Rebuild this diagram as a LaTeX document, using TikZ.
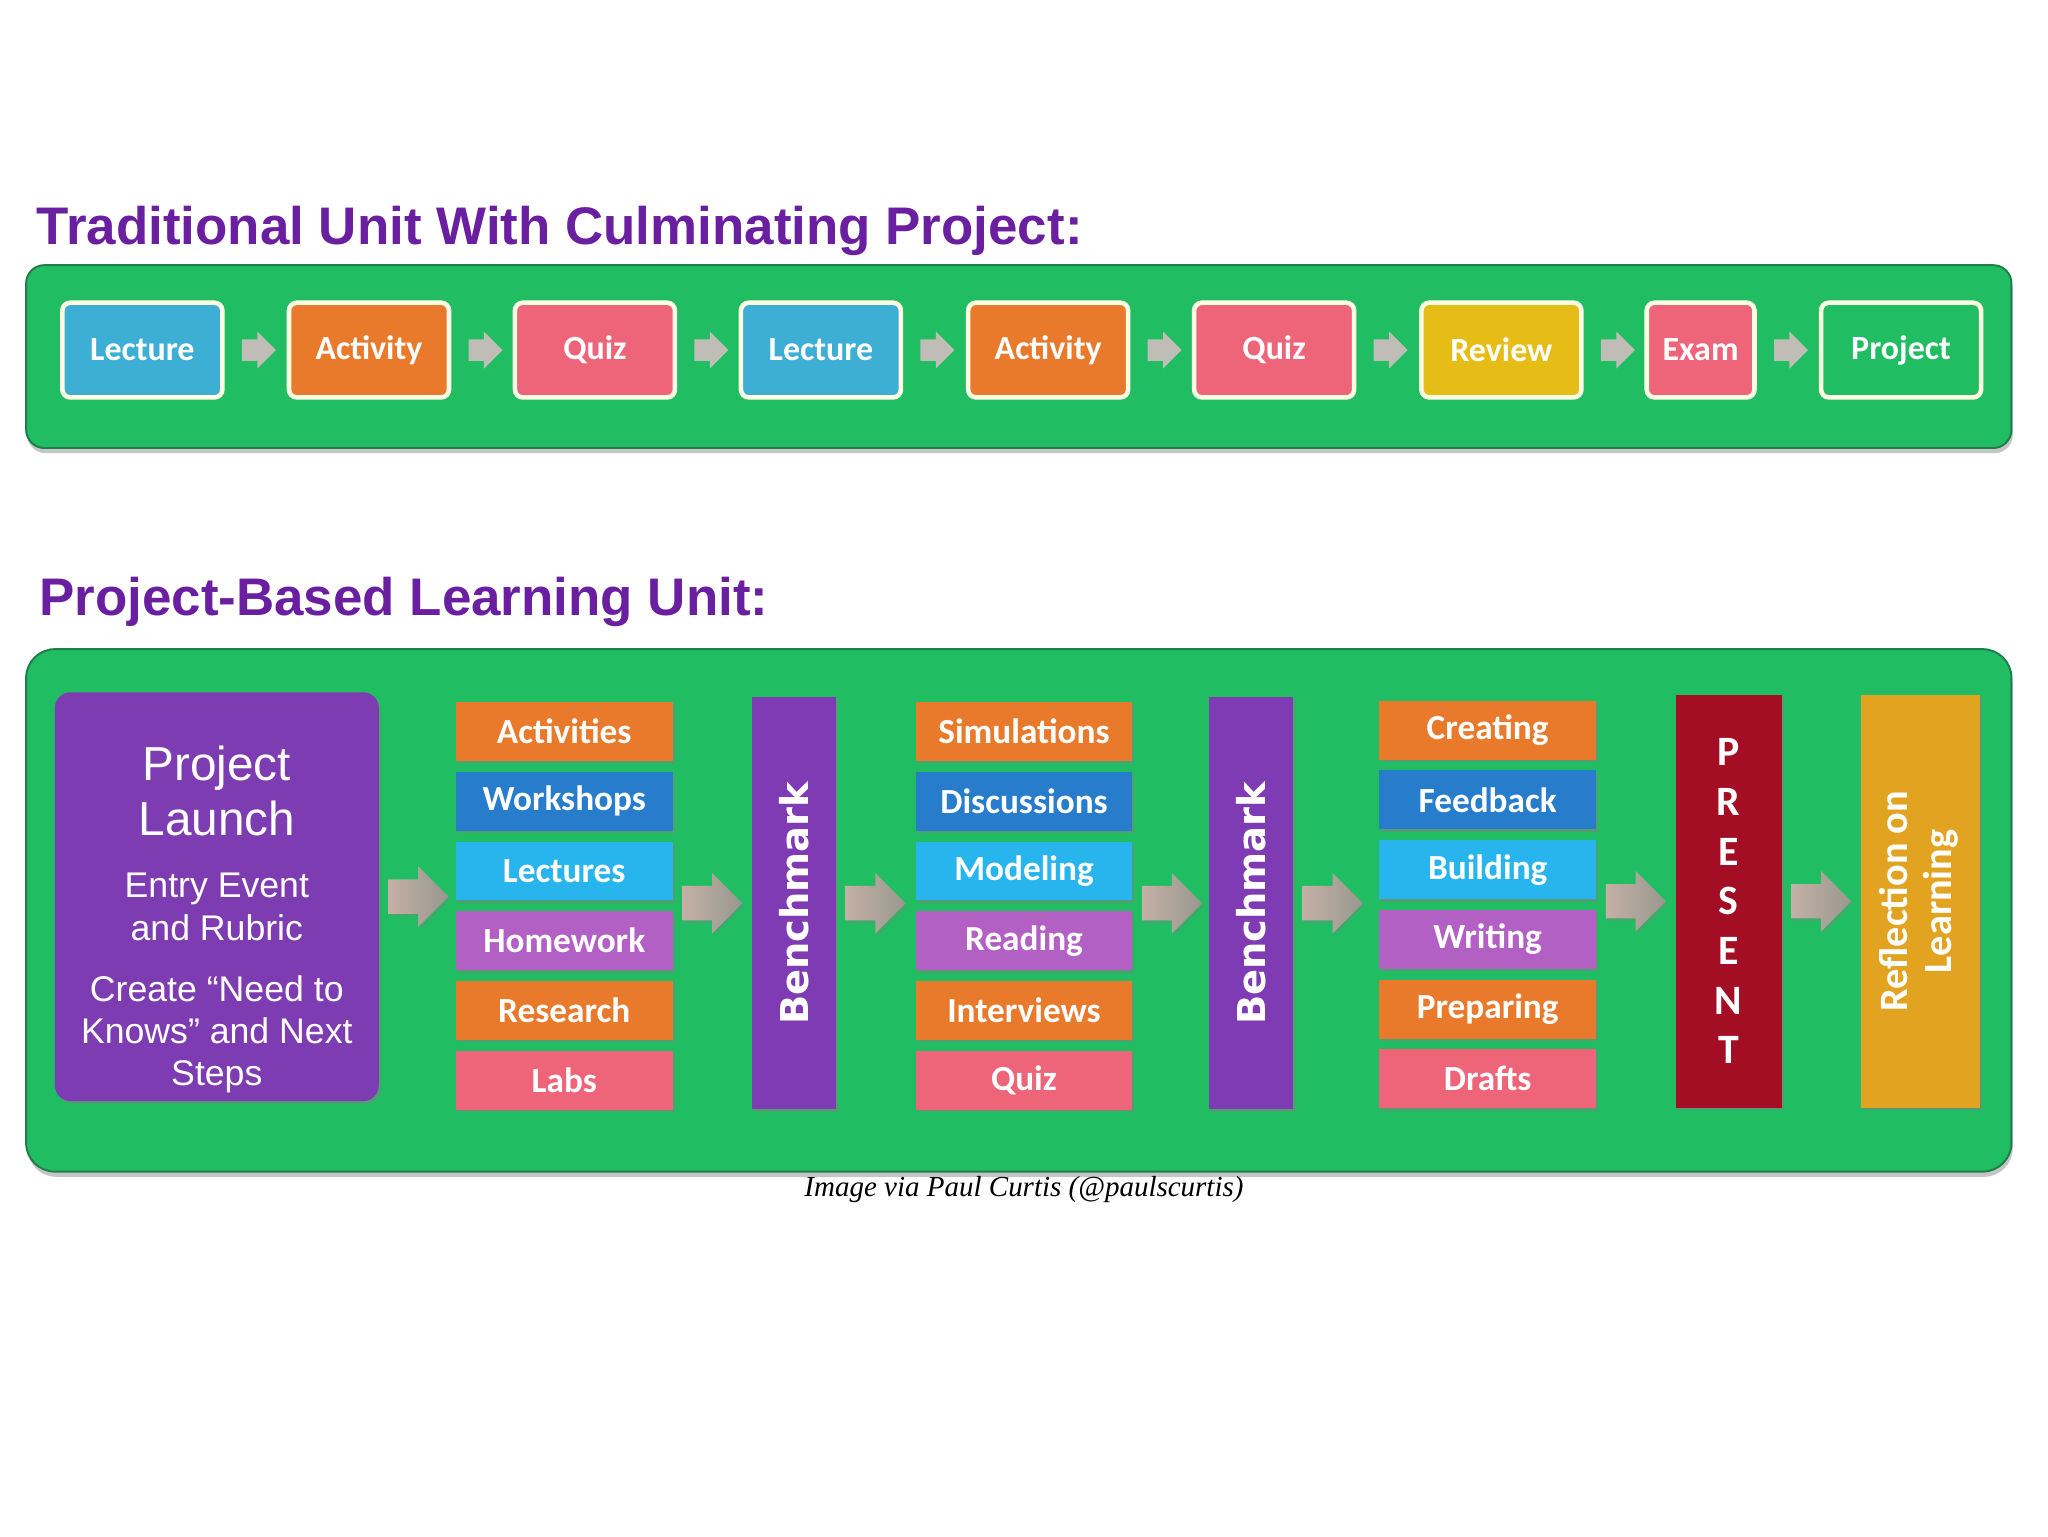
\documentclass[tikz,border=0pt]{standalone}
\usepackage{fontspec}
\usepackage{graphicx}
\setmainfont{Liberation Sans}
\newfontfamily\carlito{Carlito}
\newfontfamily\dejavu{DejaVu Sans}
\newfontfamily\capserif{Liberation Serif}
\usetikzlibrary{positioning,shapes.arrows,shadows}

\definecolor{titlepurple}{RGB}{106,30,160}
\definecolor{panelgreen}{RGB}{33,189,99}
\definecolor{paneledge}{RGB}{30,125,75}
\definecolor{lectblue}{RGB}{61,174,212}
\definecolor{actorange}{RGB}{233,122,44}
\definecolor{quizpink}{RGB}{238,100,120}
\definecolor{revyellow}{RGB}{230,188,22}
\definecolor{cream}{RGB}{255,252,228}
\definecolor{smallgray}{RGB}{192,188,182}
\definecolor{launchpurple}{RGB}{126,60,178}
\definecolor{darkblue}{RGB}{40,124,204}
\definecolor{skyblue}{RGB}{40,180,236}
\definecolor{lilac}{RGB}{178,96,196}
\definecolor{benchpurple}{RGB}{127,59,180}
\definecolor{presentred}{RGB}{163,14,36}
\definecolor{gold}{RGB}{226,163,33}

\begin{document}
\begin{tikzpicture}[x=1pt, y=-1pt,
  title/.style={anchor=base west, inner sep=0pt, text=titlepurple,
    font=\bfseries\fontsize{40.5}{48}\selectfont},
  panel/.style={fill=panelgreen, draw=paneledge, line width=1.5pt,
    drop shadow={shadow xshift=1pt, shadow yshift=-4pt, opacity=0.45}},
  unit/.style={draw=cream, line width=3.5pt, rounded corners=6pt,
    minimum width=122.5pt, minimum height=72.5pt, inner sep=0pt, text=white,
    font=\carlito\bfseries\fontsize{26}{30}\selectfont},
  tarrow/.style={single arrow, fill=smallgray, inner xsep=0pt, inner ysep=8pt,
    minimum height=26pt, single arrow head extend=6pt, pos=0, anchor=tail, xshift=13pt},
  barrow/.style={single arrow, left color={rgb,255:red,196;green,176;blue,166},
    right color={rgb,255:red,152;green,152;blue,142}, inner xsep=0pt, inner ysep=13pt,
    minimum height=46pt, single arrow head extend=10pt, pos=0, anchor=tail, xshift=7pt,
    drop shadow={shadow xshift=1pt, shadow yshift=-2pt, opacity=0.35}},
  task/.style={minimum width=166pt, minimum height=45pt, inner sep=0pt, text=white,
    font=\carlito\bfseries\fontsize{27}{30}\selectfont,
    drop shadow={shadow xshift=1.5pt, shadow yshift=-2pt, opacity=0.5}},
  tallbox/.style={minimum width=64pt, minimum height=315pt, inner sep=0pt, text=white,
    drop shadow={shadow xshift=1.5pt, shadow yshift=-2pt, opacity=0.5}},
  launch/.style={fill=launchpurple, rounded corners=12pt, minimum width=248pt,
    minimum height=313pt, text width=240pt, align=flush center, inner sep=0pt, text=white,
    font=\fontsize{27.3}{32.5}\selectfont,
    drop shadow={shadow xshift=1.5pt, shadow yshift=-2pt, opacity=0.5}}]

\fill[white] (0,0) rectangle (1568,1176);
\useasboundingbox (0,0) rectangle (1568,1176);

% traditional unit
\node[title] (trad) at (28,187) {Traditional Unit With Culminating Project:};
\draw[panel, rounded corners=14pt] (20,203) rectangle (1540,343);

\node[unit, fill=lectblue] (lec1) at (109,268) {Lecture};
\node[unit, fill=actorange] (act1) at (282.5,268) {Activity};
\node[unit, fill=quizpink] (quiz1) at (455.5,268) {Quiz};
\node[unit, fill=lectblue] (lec2) at (628.5,268) {Lecture};
\node[unit, fill=actorange] (act2) at (802.5,268) {Activity};
\node[unit, fill=quizpink] (quiz2) at (975.5,268) {Quiz};
\node[unit, fill=revyellow] (review) at (1149.5,268) {Review};
\node[unit, fill=quizpink, minimum width=82.5pt] (exam) at (1302,268) {Exam};
\node[unit, fill=panelgreen] (project) at (1455.5,268) {Project};

\path (lec1) -- node[tarrow] {} (act1);
\path (act1) -- node[tarrow] {} (quiz1);
\path (quiz1) -- node[tarrow] {} (lec2);
\path (lec2) -- node[tarrow] {} (act2);
\path (act2) -- node[tarrow] {} (quiz2);
\path (quiz2) -- node[tarrow] {} (review);
\path (review) -- node[tarrow] {} (exam);
\path (exam) -- node[tarrow] {} (project);

% project-based learning unit
\node[title] (pbl) at (30,471) {Project-Based Learning Unit:};
\draw[panel, rounded corners=22pt] (20,497) rectangle (1540,897);

\node[launch] (launch) at (166,686.5) {\par\vspace*{20pt}
  {\fontsize{36.5}{42}\selectfont Project\\Launch\par}\vspace{15pt}
  Entry Event\\and Rubric\par\vspace{14pt}
  Create “Need to\\Knows” and Next\\Steps};

\node[task, fill=actorange] (acts) at (432,560) {Activities};
\node[task, fill=darkblue, below=8pt of acts] (works) {Workshops};
\node[task, fill=skyblue, below=8pt of works] (lects) {Lectures};
\node[task, fill=lilac, below=8pt of lects] (homework) {Homework};
\node[task, fill=actorange, below=8pt of homework] (research) {Research};
\node[task, fill=quizpink, below=8pt of research] (labs) {Labs};

\node[tallbox, fill=benchpurple, font=\dejavu\bfseries\fontsize{29.4}{34}\selectfont]
  (bench1) at (608,691.5) {\rotatebox{90}{Benchmark}};

\node[task, fill=actorange] (sims) at (784,560) {Simulations};
\node[task, fill=darkblue, below=8pt of sims] (discs) {Discussions};
\node[task, fill=skyblue, below=8pt of discs] (modeling) {Modeling};
\node[task, fill=lilac, below=8pt of modeling] (reading) {Reading};
\node[task, fill=actorange, below=8pt of reading] (interviews) {Interviews};
\node[task, fill=quizpink, below=8pt of interviews] (quiz3) {Quiz};

\node[tallbox, fill=benchpurple, font=\dejavu\bfseries\fontsize{29.4}{34}\selectfont]
  (bench2) at (958,691.5) {\rotatebox{90}{Benchmark}};

\node[task, fill=actorange] (creating) at (1139,559) {Creating};
\node[task, fill=darkblue, below=8pt of creating] (feedback) {Feedback};
\node[task, fill=skyblue, below=8pt of feedback] (building) {Building};
\node[task, fill=lilac, below=8pt of building] (writing) {Writing};
\node[task, fill=actorange, below=8pt of writing] (preparing) {Preparing};
\node[task, fill=quizpink, below=8pt of preparing] (drafts) {Drafts};

\node[tallbox, fill=presentred, minimum width=81pt, minimum height=316pt, align=center,
  font=\carlito\bfseries\fontsize{32}{38}\selectfont]
  (present) at (1323.5,690) {P\\R\\E\\S\\E\\N\\T};
\node[tallbox, fill=gold, minimum width=91pt, minimum height=316pt,
  font=\carlito\bfseries\fontsize{30.8}{34}\selectfont]
  (reflect) at (1470.5,690) {\rotatebox{90}{\begin{tabular}{@{}c@{}}Reflection on\\Learning\end{tabular}}};

\path (launch.east) -- node[barrow] {} (launch.east -| acts.west);
\path (acts.east |- bench1.west) -- node[barrow] {} (bench1.west);
\path (bench1.east) -- node[barrow] {} (bench1.east -| sims.west);
\path (sims.east |- bench2.west) -- node[barrow] {} (bench2.west);
\path (bench2.east) -- node[barrow] {} (bench2.east -| creating.west);
\path (creating.east |- present.west) -- node[barrow] {} (present.west);
\path (present.east) -- node[barrow] {} (reflect.west);

\node[font=\capserif\itshape\fontsize{22.2}{26}\selectfont] (credit) at (784,911)
  {Image via Paul Curtis (@paulscurtis)};
\end{tikzpicture}
\end{document}
